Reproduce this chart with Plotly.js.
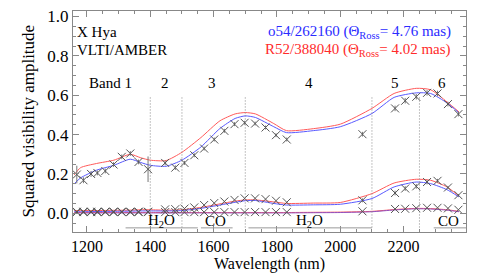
<!DOCTYPE html>
<html>
<head>
<meta charset="utf-8">
<script src="https://cdn.plot.ly/plotly-3.0.1.min.js"></script>
<style>html,body{margin:0;padding:0;background:#fff}#chart{width:485px;height:273px}</style>
</head>
<body>
<div id="chart"></div>
<script>
// Observed wavelengths (nm)
var obsWl = [1168, 1189, 1213, 1233, 1258, 1284, 1310, 1337, 1363, 1393, 1447, 1479, 1508, 1539, 1570, 1602, 1634, 1666, 1698, 1731, 1764, 1797, 1831, 2070, 2173, 2205, 2240, 2274, 2307, 2340, 2373];
// Observed squared visibilities, three baselines
var obsHigh = [0.197, 0.168, 0.200, 0.205, 0.215, 0.248, 0.287, 0.304, 0.261, 0.224, 0.256, 0.232, 0.256, 0.295, 0.329, 0.375, 0.419, 0.453, 0.460, 0.456, 0.436, 0.397, 0.375, 0.402, 0.533, 0.572, 0.592, 0.612, 0.609, 0.555, 0.504];
var obsHighErr = [0.045, 0.015, 0.015, 0.012, 0.012, 0.012, 0.012, 0.012, 0.012, 0.065, 0.012, 0.012, 0.010, 0.010, 0.010, 0.010, 0.010, 0.010, 0.010, 0.010, 0.010, 0.010, 0.010, 0.012, 0.014, 0.014, 0.014, 0.014, 0.014, 0.012, 0.012];
var obsMid = [0.008, 0.008, 0.008, 0.008, 0.008, 0.008, 0.008, 0.008, 0.008, 0.008, 0.020, 0.021, 0.024, 0.030, 0.042, 0.052, 0.060, 0.068, 0.076, 0.076, 0.072, 0.064, 0.056, 0.066, 0.103, 0.126, 0.137, 0.159, 0.165, 0.131, 0.092];
var obsMidErr = [0, 0, 0, 0, 0, 0, 0, 0, 0, 0, 0, 0, 0, 0, 0, 0, 0, 0, 0, 0, 0, 0, 0, 0.010, 0.012, 0.012, 0.012, 0.012, 0.010, 0.008, 0.006];
var obsLow = [0.006, 0.006, 0.006, 0.006, 0.006, 0.006, 0.006, 0.006, 0.006, 0.006, 0.006, 0.006, 0.006, 0.006, 0.006, 0.006, 0.006, 0.006, 0.006, 0.006, 0.006, 0.006, 0.006, 0.010, 0.022, 0.023, 0.026, 0.028, 0.028, 0.025, 0.018];

// Model curves
var modelWl = [1160, 1180, 1230, 1285, 1337, 1370, 1400, 1450, 1500, 1560, 1620, 1668, 1700, 1732, 1790, 1830, 1915, 2000, 2100, 2170, 2240, 2285, 2337, 2375];
var redHigh = [0.195, 0.232, 0.253, 0.270, 0.300, 0.282, 0.270, 0.268, 0.310, 0.385, 0.470, 0.505, 0.512, 0.505, 0.456, 0.420, 0.430, 0.453, 0.533, 0.609, 0.635, 0.628, 0.566, 0.515];
var blueHigh = [0.150, 0.180, 0.219, 0.244, 0.275, 0.258, 0.244, 0.239, 0.270, 0.337, 0.431, 0.482, 0.495, 0.487, 0.440, 0.410, 0.420, 0.440, 0.507, 0.589, 0.612, 0.609, 0.561, 0.510];
var redMid = [0.014, 0.014, 0.014, 0.015, 0.016, 0.018, 0.018, 0.016, 0.018, 0.030, 0.048, 0.062, 0.068, 0.068, 0.058, 0.050, 0.052, 0.055, 0.100, 0.154, 0.173, 0.168, 0.134, 0.087];
var blueMid = [0.008, 0.008, 0.009, 0.010, 0.011, 0.012, 0.012, 0.012, 0.014, 0.025, 0.042, 0.056, 0.064, 0.065, 0.050, 0.042, 0.043, 0.046, 0.075, 0.134, 0.159, 0.151, 0.120, 0.083];
var redLow = [0.004, 0.004, 0.004, 0.004, 0.004, 0.004, 0.004, 0.004, 0.004, 0.004, 0.004, 0.004, 0.004, 0.004, 0.004, 0.004, 0.005, 0.006, 0.010, 0.019, 0.025, 0.024, 0.018, 0.010];
var blueLow = [0.002, 0.002, 0.002, 0.002, 0.002, 0.002, 0.002, 0.002, 0.002, 0.002, 0.002, 0.002, 0.002, 0.002, 0.002, 0.002, 0.003, 0.004, 0.008, 0.017, 0.023, 0.022, 0.016, 0.008];

var bandBounds = [1400, 1500, 1700, 2100, 2250];
var bandLabels = ['Band 1', '2', '3', '4', '5', '6'];
var bandLabelWl = [1274, 1447, 1596, 1901, 2173, 2322];
var molecules = ['H<sub>2</sub>O', 'CO', 'H<sub>2</sub>O', 'CO'];
var moleculeWl = [1434, 1605, 1904, 2341];
var moleculeStart = [1322, 1560, 1710, 2295];
var moleculeEnd = [1550, 1660, 2100, 2397];

var FONT = '"Liberation Serif", "Times New Roman", Times, serif';
var RED = '#ff5a5a', BLUE = '#5a5aff';

function modelTrace(y, color) {
  return {x: modelWl, y: y, mode: 'lines', type: 'scatter', line: {color: color, width: 1, shape: 'spline', smoothing: 0.6}, hoverinfo: 'skip'};
}
function obsTrace(y, err) {
  var t = {x: obsWl, y: y, mode: 'markers', type: 'scatter',
    marker: {symbol: 'x-thin-open', size: 8, color: '#555', line: {width: 1, color: '#555'}}};
  if (err) t.error_y = {type: 'data', array: err, visible: true, color: '#777', thickness: 1, width: 0};
  return t;
}

var data = [
  modelTrace(redHigh, RED), modelTrace(blueHigh, BLUE),
  modelTrace(redMid, RED), modelTrace(blueMid, BLUE),
  modelTrace(redLow, RED), modelTrace(blueLow, '#9050c0'),
  obsTrace(obsHigh, obsHighErr), obsTrace(obsMid, obsMidErr), obsTrace(obsLow, null)
];

var shapes = [];
bandBounds.forEach(function (w) {
  shapes.push({type: 'line', xref: 'x', yref: 'y', x0: w, x1: w, y0: -0.072, y1: 0.59, line: {color: '#888', width: 1, dash: '1px,2px'}});
});
moleculeStart.forEach(function (s, i) {
  shapes.push({type: 'line', xref: 'x', yref: 'y', x0: s, x1: moleculeEnd[i], y0: -0.074, y1: -0.074, line: {color: '#999', width: 1}});
});

var T = function (text, x, y, xref, opts) {
  return Object.assign({x: x, y: y, xref: xref, yref: 'y', yanchor: 'middle', text: text, showarrow: false, font: {family: FONT, size: 15, color: '#000'}}, opts || {});
};
var annotations = [];
bandLabels.forEach(function (t, i) { annotations.push(T(t, bandLabelWl[i], 0.663, 'x', {xanchor: 'center'})); });
molecules.forEach(function (t, i) { annotations.push(T(t, moleculeWl[i], -0.039, 'x', {xanchor: 'center'})); });
annotations.push(T('X Hya', 0.005, 0.92, 'paper', {xanchor: 'left'}));
annotations.push(T('VLTI/AMBER', 0.005, 0.83, 'paper', {xanchor: 'left'}));
annotations.push(T('o54/262160 (Θ<sub>Ross</sub>= 4.76 mas)', 0.968, 0.92, 'paper', {xanchor: 'right', font: {family: FONT, size: 15, color: '#2b2bff'}}));
annotations.push(T('R52/388040 (Θ<sub>Ross</sub>= 4.02 mas)', 0.968, 0.83, 'paper', {xanchor: 'right', font: {family: FONT, size: 15, color: '#ff2b2b'}}));
// axis titles
annotations.push({x: 0.5, y: -0.146, xref: 'paper', yref: 'paper', xanchor: 'center', yanchor: 'middle', borderpad: 0, text: 'Wavelength (nm)', showarrow: false, font: {family: FONT, size: 16, color: '#000'}});
annotations.push({x: -0.1145, y: 0.5, xref: 'paper', yref: 'paper', xanchor: 'center', yanchor: 'middle', text: 'Squared visibility amplitude', textangle: -90, showarrow: false, font: {family: FONT, size: 17, color: '#000'}});

var axisCommon = {showgrid: false, zeroline: false, showline: true, linecolor: '#888', linewidth: 1, mirror: 'allticks',
  ticks: 'inside', tickcolor: '#888', ticklen: 6, tickwidth: 1, tickfont: {family: FONT, size: 16, color: '#000'}};

var layout = {
  width: 485, height: 273,
  margin: {l: 73, r: 19, t: 11, b: 41},
  paper_bgcolor: '#fff', plot_bgcolor: '#fff',
  font: {family: FONT},
  showlegend: false,
  xaxis: Object.assign({}, axisCommon, {range: [1156, 2397], tickvals: [1200, 1400, 1600, 1800, 2000, 2200],
    minor: {dtick: 50, tick0: 1200, ticks: 'inside', ticklen: 3, tickcolor: '#888'}}),
  yaxis: Object.assign({}, axisCommon, {range: [-0.095, 1.028], tickvals: [0, 0.2, 0.4, 0.6, 0.8, 1.0], tickformat: '.1f',
    tickfont: {family: FONT, size: 17, color: '#000'},
    minor: {dtick: 0.05, tick0: 0, ticks: 'inside', ticklen: 3, tickcolor: '#888'}}),
  shapes: shapes,
  annotations: annotations
};

Plotly.newPlot('chart', data, layout, {displayModeBar: false, staticPlot: true});
</script>
</body>
</html>
